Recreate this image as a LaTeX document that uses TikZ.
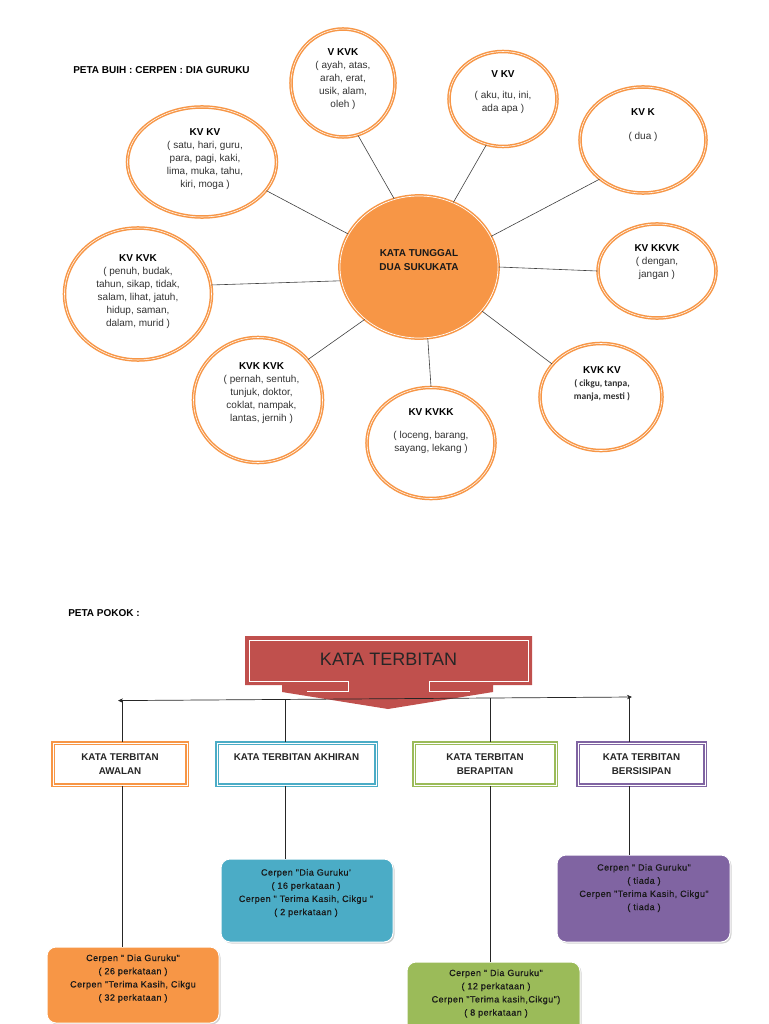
\documentclass[tikz,border=0pt]{standalone}
\usepackage{fontspec}
\setmainfont{Liberation Sans}
\newfontfamily\calib{Carlito}
\newfontfamily\spaced[LetterSpace=5,FakeBold=0.6]{Liberation Sans}
\usetikzlibrary{shapes.geometric,arrows.meta,shadows,calc}
\definecolor{orng}{HTML}{F79646}
\definecolor{blu}{HTML}{4BACC6}
\definecolor{grn}{HTML}{9BBB59}
\definecolor{purp}{HTML}{8064A2}
\definecolor{redd}{HTML}{C0504D}
\definecolor{txt}{HTML}{333333}
\begin{document}
\begin{tikzpicture}[x=1pt,y=-1pt,
  bubble/.style={ellipse, draw=orng, line width=1.5pt, double=white, double distance=0.55pt, fill=white, inner sep=0pt},
  hub/.style={ellipse, draw=orng, line width=1.5pt, double=white, double distance=0.7pt, fill=orng, inner sep=0pt},
  btext/.style={align=center, inner sep=0pt, text=txt, font=\fontsize{10}{13}\selectfont},
  link/.style={draw=black!75, line width=0.6pt},
  labbox/.style={rectangle, draw=#1, line width=1.8pt, double=white, double distance=0.6pt, fill=white, minimum height=42pt, align=center, font=\bfseries\fontsize{9.8}{14}\selectfont, text=black!85},
  fillbox/.style={rectangle, rounded corners=9pt, fill=#1, draw=white, line width=1pt, drop shadow={opacity=0.35, shadow xshift=1.5pt, shadow yshift=-1.5pt}},
  ftext/.style={align=center, inner sep=0pt, font=\spaced\fontsize{9}{13.2}\selectfont, text=black!90},
  bar/.style={draw=black!85, line width=0.7pt},
  ttl/.style={font=\bfseries\fontsize{10}{12}\selectfont, text=black, inner sep=0pt}]
\useasboundingbox (0,0) rectangle (768,1024);

% ---------- PETA BUIH ----------
\node[ttl] (title1) at (161.5,70) {PETA BUIH : CERPEN : DIA GURUKU};

\node[hub, minimum width=158pt, minimum height=142pt] (hub) at (419,267) {};
\node[align=center, inner sep=0pt, font=\bfseries\fontsize{10}{14}\selectfont, text=black!90] (hubT) at (419,260) {KATA TUNGGAL\\DUA SUKUKATA};

% bubbles
\node[bubble, minimum width=104pt, minimum height=108pt] (n1) at (343,83) {};
\node[btext] (n1T) at (343,79.5) {\textbf{\color{black}V KVK}\\( ayah, atas,\\arah, erat,\\usik, alam,\\oleh )};

\node[bubble, minimum width=108pt, minimum height=95pt] (n2) at (503,99) {};
\node[btext] (n2T) at (503,92.5) {\textbf{\color{black}V KV}\\[8pt]( aku, itu, ini,\\ada apa )};

\node[bubble, minimum width=126pt, minimum height=106pt] (n3) at (643,140) {};
\node[btext] (n3T) at (643,125) {\textbf{\color{black}KV K}\\[11pt]( dua )};

\node[bubble, minimum width=149pt, minimum height=110pt] (n4) at (202,162) {};
\node[btext] (n4T) at (205,159.5) {\textbf{\color{black}KV KV}\\( satu, hari, guru,\\para, pagi, kaki,\\lima, muka, tahu,\\kiri, moga )};

\node[bubble, minimum width=147pt, minimum height=132pt] (n5) at (138,294) {};
\node[btext] (n5T) at (138,291.5) {\textbf{\color{black}KV KVK}\\( penuh, budak,\\tahun, sikap, tidak,\\salam, lihat, jatuh,\\hidup, saman,\\dalam, murid )};

\node[bubble, minimum width=118pt, minimum height=94pt] (n6) at (657,271) {};
\node[btext] (n6T) at (657,262) {\textbf{\color{black}KV KKVK}\\( dengan,\\jangan )};

\node[bubble, minimum width=129pt, minimum height=125pt] (n7) at (258,400) {};
\node[btext] (n7T) at (261.5,393) {\textbf{\color{black}KVK KVK}\\( pernah, sentuh,\\tunjuk, doktor,\\coklat, nampak,\\lantas, jernih )};

\node[bubble, minimum width=128pt, minimum height=111pt] (n8) at (431,443) {};
\node[btext] (n8T) at (431,431.5) {\textbf{\color{black}KV KVKK}\\[10pt]( loceng, barang,\\sayang, lekang )};

\node[bubble, minimum width=122pt, minimum height=107pt] (n9) at (601,397) {};
\node[btext] (n9T) at (602,383.5) {\textbf{\color{black}KVK KV}\\{\calib\bfseries\fontsize{9.5}{13}\selectfont ( cikgu, tanpa,}\\{\calib\bfseries\fontsize{9.5}{13}\selectfont manja, mesti )}};

% connectors
\draw[link] (n1.-74) -- (hub.110);
\draw[link] (n2.-110) -- (hub.62);
\draw[link] (n3.-138) -- (hub.23);
\draw[link] (n4.-24) -- (hub.155);
\draw[link] (n5.7) -- (hub.-170);
\draw[link] (n6.180) -- (hub.0);
\draw[link] (n7.39) -- (hub.-136);
\draw[link] (n8.90) -- (hub.-83);
\draw[link] (n9.146) -- (hub.-35);

% ---------- PETA POKOK ----------
\node[ttl] (title2) at (104,613) {PETA POKOK :};

\fill[redd] (245,636) -- (532,636) -- (532,685) -- (493,685) -- (493,692) -- (388,709) -- (282,692) -- (282,685) -- (245,685) -- cycle;
\draw[white, line width=1pt] (307,691) -- (348,691) -- (348,681) -- (249,681) -- (249,640) -- (528,640) -- (528,681) -- (429,681) -- (429,691) -- (470,691);
\node[font=\fontsize{18}{20}\selectfont, text=black!85, inner sep=0pt] (kt) at (388.5,659) {KATA TERBITAN};

\coordinate (bl) at (118,700.6);
\coordinate (br) at (632,697);
\coordinate (b1) at (122.5,700.5);
\coordinate (b2) at (285.5,699.4);
\coordinate (b3) at (490,698);
\coordinate (b4) at (629,697);
\draw[bar, {Stealth[length=5pt,width=4.5pt]}-{Stealth[length=5pt,width=4.5pt]}] (bl) -- (br);

\node[labbox=orng, minimum width=134pt] (awal) at (120,764) {KATA TERBITAN\\AWALAN};
\node[labbox=blu, minimum width=159pt] (akhir) at (296.5,764) {KATA TERBITAN AKHIRAN\\\mbox{}};
\node[labbox=grn, minimum width=142pt] (apit) at (485,764) {KATA TERBITAN\\BERAPITAN};
\node[labbox=purp, minimum width=127pt] (sisip) at (641.5,764) {KATA TERBITAN\\BERSISIPAN};

\node[fillbox=orng, minimum width=172pt, minimum height=76pt] (fawal) at (133,985) {};
\node[fillbox=blu, minimum width=172pt, minimum height=83pt] (fakhir) at (307,900.5) {};
\node[fillbox=grn, minimum width=173pt, minimum height=78pt] (fapit) at (493.5,1001) {};
\node[fillbox=purp, minimum width=173pt, minimum height=87pt] (fsisip) at (643.5,898.5) {};

\node[ftext] (tawal) at (133,978.5) {Cerpen " Dia Guruku"\\( 26 perkataan )\\Cerpen "Terima Kasih, Cikgu\\( 32 perkataan )};
\node[ftext] (takhir) at (306,893) {Cerpen "Dia Guruku’\\( 16 perkataan )\\Cerpen " Terima Kasih, Cikgu "\\( 2 perkataan )};
\node[ftext] (tapit) at (496,993.5) {Cerpen " Dia Guruku"\\( 12 perkataan )\\Cerpen "Terima kasih,Cikgu")\\( 8 perkataan )};
\node[ftext] (tsisip) at (644,888) {Cerpen " Dia Guruku"\\( tiada )\\Cerpen "Terima Kasih, Cikgu"\\( tiada )};

\draw[bar] (b1) -- (b1 |- awal.north);
\draw[bar] (b2) -- (b2 |- akhir.north);
\draw[bar] (b3) -- (b3 |- apit.north);
\draw[bar] (b4) -- (b4 |- sisip.north);
\draw[bar] (b1 |- awal.south) -- (b1 |- fawal.north);
\draw[bar] (b2 |- akhir.south) -- (b2 |- fakhir.north);
\draw[bar] (b3 |- apit.south) -- (b3 |- fapit.north);
\draw[bar] (b4 |- sisip.south) -- (b4 |- fsisip.north);
\end{tikzpicture}
\end{document}
